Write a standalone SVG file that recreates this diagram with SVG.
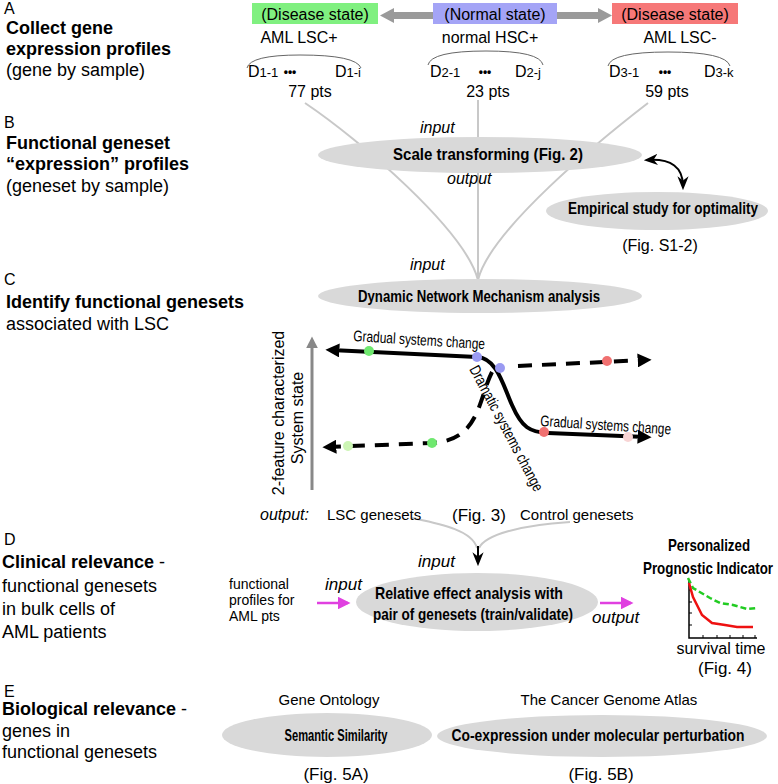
<svg xmlns="http://www.w3.org/2000/svg" width="778" height="784" viewBox="0 0 778 784">
<style>
text{font-family:"Liberation Sans",Arial,sans-serif;fill:#000}
.h{font-size:18px}
.b{font-weight:bold}
.it{font-style:italic}
.lab{font-size:16px}
.nb{font-size:17px;font-weight:bold}
.ell{fill:#d9d9d9}
.gl{fill:none;stroke:#c8c8c8;stroke-width:2}
.thick{fill:none;stroke:#000;stroke-width:4}
.dash{stroke-dasharray:14 10}
</style>
<defs>
<marker id="ah" viewBox="0 0 10 10" refX="6" refY="5" markerWidth="3.5" markerHeight="3.5" orient="auto-start-reverse"><path d="M0,0 L10,5 L0,10 z" fill="#000"/></marker>
<marker id="ahs" viewBox="0 0 10 10" refX="7" refY="5" markerWidth="7" markerHeight="7" orient="auto-start-reverse"><path d="M0,1 L10,5 L0,9 L3,5 z" fill="#000"/></marker>
<marker id="ahg" viewBox="0 0 10 10" refX="7" refY="5" markerWidth="4" markerHeight="4" orient="auto"><path d="M0,0 L10,5 L0,10 z" fill="#888"/></marker>
<marker id="ahm" viewBox="0 0 10 10" refX="8" refY="5" markerWidth="5" markerHeight="5" orient="auto"><path d="M0,0 L10,5 L0,10 z" fill="#e040e0"/></marker>
</defs>

<g id="connectors">
<path class="gl" d="M305,103 C360,140 465,230 478,280"/>
<path class="gl" d="M478,100 L478,280"/>
<path class="gl" d="M648,103 C600,140 490,230 478,280"/>
<path class="gl" d="M412,518 C440,524 472,530 477,548"/>
<path class="gl" d="M570,522 C520,525 485,535 479,548"/>
<path d="M478,546 L478,562" stroke="#000" stroke-width="2" marker-end="url(#ahs)"/>
<path d="M648,160 Q683,158 683,186" fill="none" stroke="#000" stroke-width="2" marker-start="url(#ahs)" marker-end="url(#ahs)"/>
<path d="M317,603 L348,603" stroke="#e040e0" stroke-width="2.5" marker-end="url(#ahm)"/>
<path d="M600,603 L631,603" stroke="#e040e0" stroke-width="2.5" marker-end="url(#ahm)"/>
</g>

<g id="sectionA">
<text x="4" y="14" style="font-size:16px">A</text>
<text x="6" y="34" class="h b">Collect gene</text>
<text x="6" y="55" class="h b">expression profiles</text>
<text x="6" y="76" class="h">(gene by sample)</text>
</g>

<g id="stateArrow">
<polygon points="380,15.5 394,8 394,12 598,12 598,8 612,15.5 598,23 598,19 394,19 394,23" fill="#9a9a9a"/>
</g>
<g id="disease1">
<rect x="252" y="3" width="126" height="21" fill="#80f080"/>
<text x="315" y="20" class="lab" text-anchor="middle">(Disease state)</text>
<text x="299" y="43" class="lab" text-anchor="middle">AML LSC+</text>
<path d="M247,68 Q250,55 300,55 Q356,55 361,68" fill="none" stroke="#666" stroke-width="1"/>
<text x="248" y="77" class="lab">D<tspan font-size="13">1-1</tspan></text>
<text x="290" y="76" font-size="12" font-weight="bold" text-anchor="middle">•••</text>
<text x="335" y="77" class="lab">D<tspan font-size="13">1-i</tspan></text>
<text x="310" y="97" class="lab" text-anchor="middle">77 pts</text>
</g>
<g id="normal">
<rect x="433" y="3" width="124" height="21" fill="#a4a4f6"/>
<text x="495" y="20" class="lab" text-anchor="middle">(Normal state)</text>
<text x="490" y="43" class="lab" text-anchor="middle">normal HSC+</text>
<path d="M428,65 Q431,51 486,51 Q540,51 543,65" fill="none" stroke="#666" stroke-width="1"/>
<text x="430" y="77" class="lab">D<tspan font-size="13">2-1</tspan></text>
<text x="485" y="76" font-size="12" font-weight="bold" text-anchor="middle">•••</text>
<text x="515" y="77" class="lab">D<tspan font-size="13">2-j</tspan></text>
<text x="488" y="97" class="lab" text-anchor="middle">23 pts</text>
</g>
<g id="disease2">
<rect x="612" y="3" width="126" height="21" fill="#f67878"/>
<text x="675" y="20" class="lab" text-anchor="middle">(Disease state)</text>
<text x="680" y="43" class="lab" text-anchor="middle">AML LSC-</text>
<path d="M608,66 Q611,52 668,52 Q726,52 730,66" fill="none" stroke="#666" stroke-width="1"/>
<text x="609" y="77" class="lab">D<tspan font-size="13">3-1</tspan></text>
<text x="665" y="76" font-size="12" font-weight="bold" text-anchor="middle">•••</text>
<text x="704" y="77" class="lab">D<tspan font-size="13">3-k</tspan></text>
<text x="667" y="97" class="lab" text-anchor="middle">59 pts</text>
</g>

<g id="sectionB">
<text x="4" y="128" style="font-size:16px">B</text>
<text x="6" y="149" class="h b">Functional geneset</text>
<text x="6" y="170" class="h b">“expression” profiles</text>
<text x="6" y="192" class="h">(geneset by sample)</text>
</g>
<g id="scale">
<ellipse cx="480" cy="155" rx="162" ry="18" class="ell"/>
<text x="420" y="133" class="lab it">input</text>
<text x="488" y="160" class="nb" text-anchor="middle" textLength="190" lengthAdjust="spacingAndGlyphs">Scale transforming (Fig. 2)</text>
<text x="447" y="184" class="lab it">output</text>
</g>
<g id="empirical">
<ellipse cx="657" cy="211" rx="111" ry="19" class="ell"/>
<text x="663" y="214" class="nb" text-anchor="middle" textLength="190" lengthAdjust="spacingAndGlyphs">Empirical study for optimality</text>
<text x="660" y="251" class="lab" text-anchor="middle">(Fig. S1-2)</text>
</g>

<g id="sectionC">
<text x="4" y="285" style="font-size:16px">C</text>
<text x="6" y="308" class="h b">Identify functional genesets</text>
<text x="6" y="330" class="h">associated with LSC</text>
</g>
<g id="dynamic">
<text x="410" y="270" class="lab it">input</text>
<ellipse cx="480" cy="296" rx="162" ry="17" class="ell"/>
<text x="479" y="302" class="nb" text-anchor="middle" textLength="242" lengthAdjust="spacingAndGlyphs">Dynamic Network Mechanism analysis</text>
</g>
<g id="plot">
<line x1="312" y1="490" x2="312" y2="340" stroke="#888" stroke-width="3" marker-end="url(#ahg)"/>
<text transform="translate(284,413) rotate(-90)" font-size="16" text-anchor="middle">2-feature characterized</text>
<text transform="translate(303,418) rotate(-90)" font-size="16" text-anchor="middle">System state</text>
<path class="thick" d="M331,350 L477,357 C497,358 503,385 512,405 C522,428 530,432 548,433 L646,437" marker-start="url(#ah)" marker-end="url(#ah)"/>
<path class="thick dash" d="M518,366 L646,360" marker-end="url(#ah)"/>
<path class="thick dash" d="M492,372 C478,400 480,440 432,443 L328,447" marker-end="url(#ah)"/>
<circle cx="369" cy="351" r="5" fill="#70e870"/>
<circle cx="477" cy="357" r="5" fill="#9a9af2"/>
<circle cx="500" cy="368" r="5" fill="#9a9af2"/>
<circle cx="607" cy="361" r="5" fill="#f07070"/>
<circle cx="544" cy="432" r="5" fill="#f07070"/>
<circle cx="628" cy="437" r="5" fill="#f8d4d4"/>
<circle cx="348" cy="446" r="5" fill="#ccf5b4"/>
<circle cx="432" cy="443" r="5" fill="#70e870"/>
<text transform="translate(353,341) rotate(3.6)" font-size="15.5" textLength="132" lengthAdjust="spacingAndGlyphs">Gradual systems change</text>
<text transform="translate(540,426) rotate(3.7)" font-size="15.5" textLength="131" lengthAdjust="spacingAndGlyphs">Gradual systems change</text>
<text transform="translate(469,369) rotate(62)" font-size="15.5" textLength="140" lengthAdjust="spacingAndGlyphs">Dramatic systems change</text>
<text x="260" y="520" class="lab it">output:</text>
<text x="327" y="520" font-size="15">LSC genesets</text>
<text x="452" y="521" font-size="17">(Fig. 3)</text>
<text x="520" y="520" font-size="15">Control genesets</text>
</g>

<g id="sectionD">
<text x="4" y="545" style="font-size:16px">D</text>
<text x="2" y="568" class="h"><tspan class="b">Clinical relevance</tspan> -</text>
<text x="2" y="592" class="h">functional genesets</text>
<text x="2" y="615" class="h">in bulk cells of</text>
<text x="2" y="638" class="h">AML patients</text>
</g>
<g id="profiles">
<text x="229" y="589" font-size="14">functional</text>
<text x="229" y="605" font-size="14">profiles for</text>
<text x="229" y="621" font-size="14">AML pts</text>
<text x="325" y="590" font-size="17" class="it">input</text>
</g>
<g id="relative">
<text x="418" y="567" font-size="17" class="it">input</text>
<ellipse cx="477" cy="602" rx="121" ry="29" class="ell"/>
<text x="469" y="599" class="nb" text-anchor="middle" textLength="188" lengthAdjust="spacingAndGlyphs">Relative effect analysis with</text>
<text x="473" y="620" class="nb" text-anchor="middle" textLength="200" lengthAdjust="spacingAndGlyphs">pair of genesets (train/validate)</text>
<text x="592" y="623" font-size="17" class="it">output</text>
</g>
<g id="indicator">
<text x="709" y="551" class="nb" text-anchor="middle" textLength="82" lengthAdjust="spacingAndGlyphs">Personalized</text>
<text x="708" y="574" class="nb" text-anchor="middle" textLength="130" lengthAdjust="spacingAndGlyphs">Prognostic Indicator</text>
<path d="M689,580 L689,638 L757,638" fill="none" stroke="#000" stroke-width="1.5"/>
<path d="M689,590 h3 M689,602 h3 M689,613 h3 M689,625 h3 M703,638 v-3 M717,638 v-3 M730,638 v-3 M743,638 v-3 M755,638 v-3" stroke="#000" stroke-width="1"/>
<path d="M688,578 L693,588 L710,598 L720,603 L733,605 L747,609 L757,608" fill="none" stroke="#22cc22" stroke-width="2.5" stroke-dasharray="6 3"/>
<path d="M689,583 L693,597 L702,615 L712,623 L725,625 L737,627 L753,627" fill="none" stroke="#ee1111" stroke-width="2.5"/>
<text x="721" y="654" font-size="16" text-anchor="middle">survival time</text>
<text x="725" y="674" font-size="17" text-anchor="middle">(Fig. 4)</text>
</g>

<g id="sectionE">
<text x="4" y="697" style="font-size:16px">E</text>
<text x="2" y="715" class="h"><tspan class="b">Biological relevance</tspan> -</text>
<text x="2" y="737" class="h">genes in</text>
<text x="2" y="758" class="h">functional genesets</text>
</g>
<g id="semantic">
<text x="329" y="705" font-size="15" text-anchor="middle">Gene Ontology</text>
<ellipse cx="327" cy="735" rx="105" ry="22" class="ell"/>
<text x="336" y="741" class="nb" text-anchor="middle" textLength="103" lengthAdjust="spacingAndGlyphs">Semantic Similarity</text>
<text x="336" y="780" font-size="17" text-anchor="middle">(Fig. 5A)</text>
</g>
<g id="coexpression">
<text x="609" y="705" font-size="15" text-anchor="middle">The Cancer Genome Atlas</text>
<ellipse cx="602" cy="736" rx="165" ry="21" class="ell"/>
<text x="598" y="741" class="nb" text-anchor="middle" textLength="293" lengthAdjust="spacingAndGlyphs">Co-expression under molecular perturbation</text>
<text x="601" y="780" font-size="17" text-anchor="middle">(Fig. 5B)</text>
</g>
</svg>
